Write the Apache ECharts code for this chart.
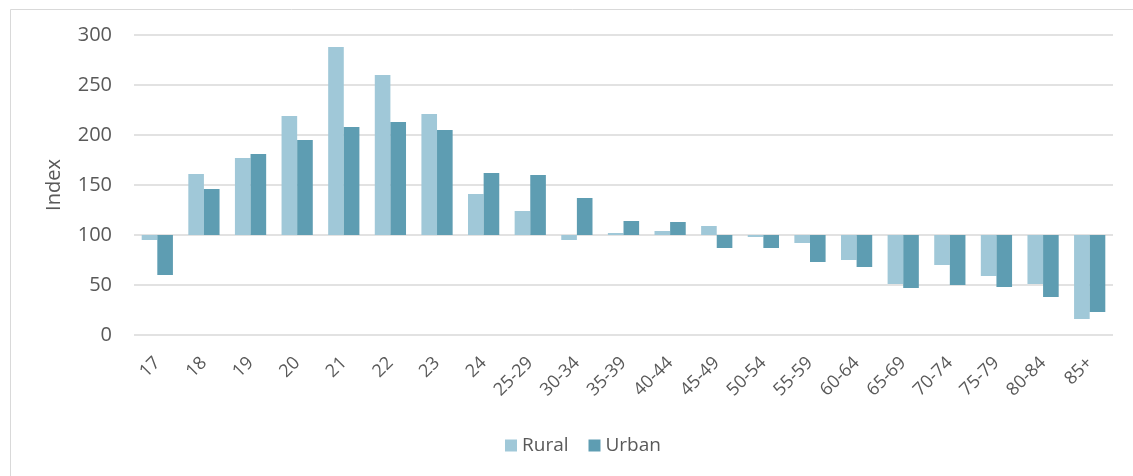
<!DOCTYPE html>
<html>
<head>
<meta charset="utf-8">
<script src="https://cdn.jsdelivr.net/npm/echarts@6/dist/echarts.min.js"></script>
<style>
  html, body { margin: 0; padding: 0; background: #ffffff; }
  #chart { width: 1133px; height: 476px; }
</style>
</head>
<body>
<div id="chart"></div>
<script>
// Age groups and index values (100 = average)
const categories = ['17','18','19','20','21','22','23','24','25-29','30-34','35-39','40-44','45-49','50-54','55-59','60-64','65-69','70-74','75-79','80-84','85+'];
const rural = [95, 161, 177, 219, 288, 260, 221, 141, 124, 95, 102, 104, 109, 98, 92, 75, 51, 70, 59, 51, 16];
const urban = [60, 146, 181, 195, 208, 213, 205, 162, 160, 137, 114, 113, 87, 87, 73, 68, 47, 50, 48, 38, 23];
const yTicks = { min: 0, max: 300, interval: 50 };
const baseline = 100;

const FONT = 'Open Sans';
const TEXT = '#595959';
const RURAL_COLOR = '#A0C8D8';
const URBAN_COLOR = '#5E9DB2';

// Bars grow from the 100 baseline: an invisible stacked segment up to
// min(value, 100), then a visible segment spanning |value - 100|.
function baseSeries(stack, values) {
  return {
    name: stack + '-base', type: 'bar', stack: stack, silent: true,
    barGap: '0%', barCategoryGap: '33%',
    itemStyle: { color: 'rgba(0,0,0,0)' },
    data: values.map(v => Math.min(v, baseline))
  };
}
function deltaSeries(name, stack, values, color) {
  return {
    name: name, type: 'bar', stack: stack,
    barGap: '0%', barCategoryGap: '33%',
    barMinHeight: 1,
    itemStyle: { color: color },
    data: values.map(v => Math.abs(v - baseline))
  };
}

const chart = echarts.init(document.getElementById('chart'), null, { renderer: 'canvas' });
chart.setOption({
  animation: false,
  backgroundColor: '#ffffff',
  textStyle: { fontFamily: FONT },
  graphic: [{
    type: 'rect', left: 8, top: 7, silent: true,
    shape: { width: 1300, height: 600 },
    style: { fill: 'none', stroke: '#D9D9D9', lineWidth: 1 }
  }],
  grid: { left: 134, right: 20, top: 35, bottom: 141 },
  legend: {
    data: ['Rural', 'Urban'],
    left: 500, top: 431,
    itemWidth: 12, itemHeight: 12, itemGap: 20,
    icon: 'rect',
    textStyle: { color: TEXT, fontSize: 19, fontFamily: FONT }
  },
  xAxis: {
    type: 'category',
    data: categories,
    axisLine: { show: false },
    axisTick: { show: false },
    axisLabel: { interval: 0, rotate: 45, color: TEXT, fontSize: 18, fontFamily: FONT, margin: 25 }
  },
  yAxis: {
    type: 'value',
    min: yTicks.min, max: yTicks.max, interval: yTicks.interval,
    name: 'Index', nameLocation: 'middle', nameGap: 70, nameRotate: 90,
    nameTextStyle: { color: TEXT, fontSize: 20, fontFamily: FONT },
    axisLine: { show: false },
    axisTick: { show: false },
    axisLabel: { color: TEXT, fontSize: 20, fontFamily: FONT, margin: 22 },
    splitLine: { lineStyle: { color: '#D9D9D9', width: 1.5 } }
  },
  series: [
    baseSeries('r', rural),
    deltaSeries('Rural', 'r', rural, RURAL_COLOR),
    baseSeries('u', urban),
    deltaSeries('Urban', 'u', urban, URBAN_COLOR)
  ]
});
</script>
</body>
</html>
